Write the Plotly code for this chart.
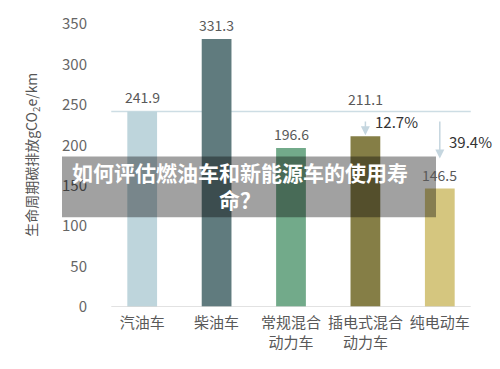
import plotly.graph_objects as go

categories = ["汽油车", "柴油车", "常规混合<br>动力车", "插电式混合<br>动力车", "纯电动车"]
values = [241.9, 331.3, 196.6, 211.1, 146.5]
bar_colors = ["#bed5dc", "#607b7e", "#72aa8a", "#857e46", "#d5c67f"]
shown_labels = ["241.9", "331.3", "196.6", None, "146.5"]
baseline_value = 241.9
ref_label = "211.1"
pct_labels = ["12.7%", "39.4%"]
pct_targets = [3, 4]
pct_label_y = [229, 205]
y_ticks = [0, 50, 100, 150, 200, 250, 300, 350]
y_title = "生命周期碳排放gCO<sub>2</sub>e/km"
headline = "如何评估燃油车和新能源车的使用寿<br>命？"

FONT = "Noto Sans CJK SC"
xs = list(range(len(categories)))

fig = go.Figure()
fig.add_trace(go.Bar(
    x=xs, y=values, marker=dict(color=bar_colors, line=dict(width=0)),
    width=0.4, hoverinfo="skip",
))

ann = []
for i, (v, t) in enumerate(zip(values, shown_labels)):
    if t:
        ann.append(dict(x=i, y=v, text=t, showarrow=False, yshift=14,
                        font=dict(size=14, color="#595959", family=FONT)))
ann.append(dict(x=3, y=baseline_value, text=ref_label, showarrow=False, yshift=12,
                font=dict(size=14, color="#595959", family=FONT)))
# arrows
standoffs = [1, 30]
for k, idx in enumerate(pct_targets):
    ann.append(dict(x=idx, y=values[idx], ax=idx, ay=baseline_value, axref="x", ayref="y",
                    xref="x", yref="y", showarrow=True, arrowhead=2, arrowsize=1.2,
                    arrowwidth=1.5, arrowcolor="#c5d6df", standoff=standoffs[k], text=" "))
    ann.append(dict(x=idx + 0.1, y=pct_label_y[k], text=pct_labels[k], showarrow=False,
                    xanchor="left", font=dict(size=15, color="#333333", family=FONT)))

ann.append(dict(xref="paper", yref="paper", x=0.363, y=0.428, text=headline, showarrow=False,
                align="center", font=dict(size=21, color="white", family=FONT, weight="bold")))
ann.append(dict(xref="paper", yref="paper", x=-0.196, y=0.538, text=y_title, showarrow=False,
                xanchor="center", yanchor="middle",
                textangle=-90, font=dict(size=14, color="#555555", family=FONT)))

fig.update_layout(
    width=500, height=369,
    margin=dict(l=105, r=23, t=17, b=62),
    paper_bgcolor="white", plot_bgcolor="white",
    showlegend=False,
    font=dict(family=FONT),
    xaxis=dict(range=[-0.5, 4.5], tickmode="array", tickvals=xs, ticktext=categories,
               showgrid=False, zeroline=False, showline=False, ticks="", ticklabelstandoff=5,
               tickfont=dict(size=15, color="#595959", family=FONT)),
    yaxis=dict(range=[0, 350], tickmode="array", tickvals=y_ticks, showgrid=False,
               zeroline=False, showline=False, ticks="", ticklabelstandoff=17,
               tickfont=dict(size=15, color="#666666", family=FONT)),
    annotations=ann,
    shapes=[
        dict(type="line", xref="x", yref="y", x0=-0.416, x1=4.416, y0=0, y1=0,
             line=dict(color="#d9d9d9", width=1.5)),
        dict(type="line", xref="x", yref="y", x0=-0.416, x1=4.416, y0=baseline_value, y1=baseline_value,
             line=dict(color="#cddde4", width=1.5), layer="below"),
        dict(type="rect", xref="paper", yref="paper", x0=-0.1156, x1=0.8898, y0=0.317, y1=0.532,
             fillcolor="rgba(0,0,0,0.37)", line=dict(width=0), layer="above"),
    ],
)
fig.write_html("out.html")
